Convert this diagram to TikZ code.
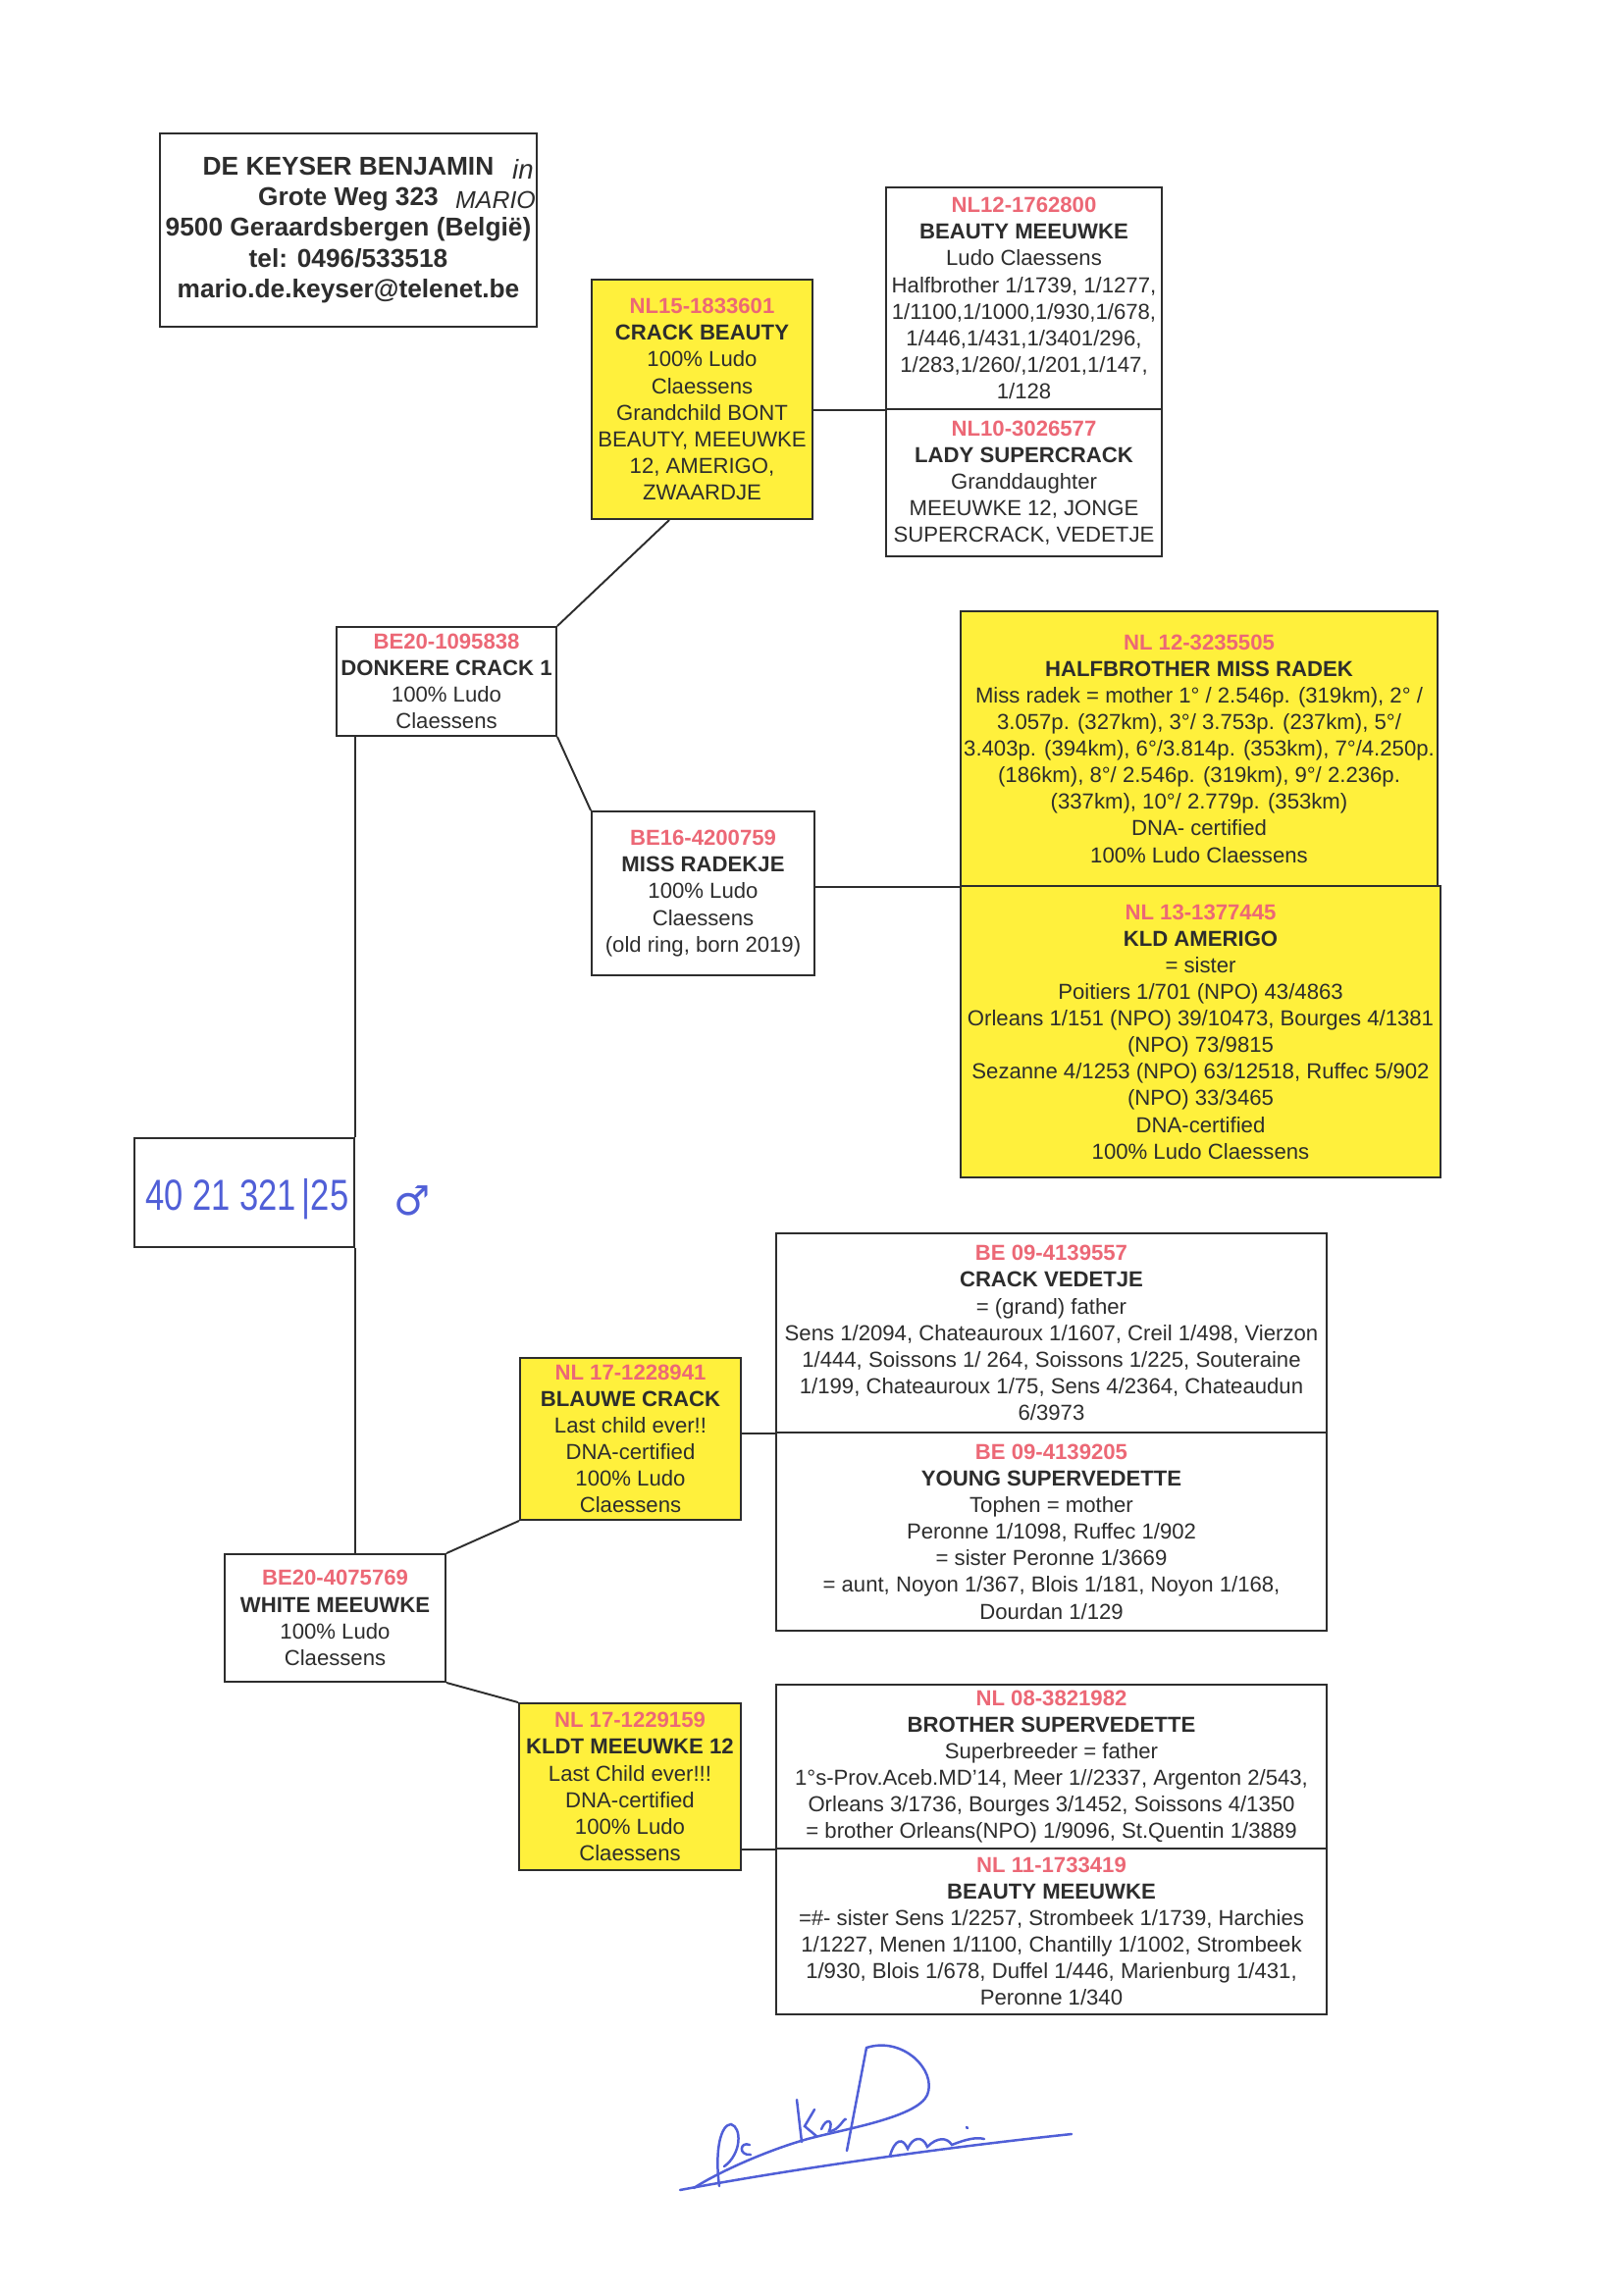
\documentclass[tikz,border=0pt]{standalone}
\usepackage{fontspec}
\setmainfont{Liberation Sans}
\newfontfamily\symfont{DejaVu Sans}

\definecolor{ringred}{RGB}{236,104,118}
\definecolor{cardyellow}{RGB}{255,240,60}
\definecolor{ink}{RGB}{45,45,45}
\definecolor{penblue}{RGB}{80,95,215}
\newdimen\pxu \pxu=0.127mm
\newcommand{\ringno}[1]{\textcolor{ringred}{\textbf{#1}}}

\begin{document}
\begin{tikzpicture}[x=0.127mm,y=-0.127mm,
card/.style={draw=ink,line width=0.7pt,inner sep=0pt,align=center,text=ink,font=\fontsize{8}{9.8}\selectfont},
yellowcard/.style={card,fill=cardyellow},
link/.style={draw=ink,line width=0.7pt},
penline/.style={draw=penblue,line width=0.9pt,line cap=round}]
\useasboundingbox[fill=white] (0,0) rectangle (1654,2337);

% owner
\node[card,font=\fontsize{9.5}{11.3}\selectfont\bfseries,minimum width=384*\pxu,minimum height=197*\pxu] (owner) at (355,234.5)
{DE KEYSER BENJAMIN\\Grote Weg 323\\9500 Geraardsbergen (België)\\tel: 0496/533518\\mario.de.keyser@telenet.be};
\node[text=ink,font=\fontsize{10}{10}\selectfont\itshape] (ownerin) at (533,172) {in};
\node[text=ink,font=\fontsize{9}{9}\selectfont\itshape] (ownermario) at (505,204) {MARIO};

% top branch
\node[yellowcard,minimum width=225*\pxu,minimum height=244*\pxu] (crackbeauty) at (715.5,407)
{\ringno{NL15-1833601}\\\textbf{CRACK BEAUTY}\\100\% Ludo\\Claessens\\Grandchild BONT\\BEAUTY, MEEUWKE\\12, AMERIGO,\\ZWAARDJE};
\node[card,minimum width=281*\pxu,minimum height=226*\pxu] (beautytop) at (1043.5,304)
{\ringno{NL12-1762800}\\\textbf{BEAUTY MEEUWKE}\\Ludo Claessens\\Halfbrother 1/1739, 1/1277,\\1/1100,1/1000,1/930,1/678,\\1/446,1/431,1/3401/296,\\1/283,1/260/,1/201,1/147,\\1/128};
\node[card,minimum width=281*\pxu,minimum height=150*\pxu] (lady) at (1043.5,492)
{\ringno{NL10-3026577}\\\textbf{LADY SUPERCRACK}\\Granddaughter\\MEEUWKE 12, JONGE\\SUPERCRACK, VEDETJE};

\node[card,minimum width=224*\pxu,minimum height=111*\pxu] (donkere) at (455,694.5)
{\ringno{BE20-1095838}\\\textbf{DONKERE CRACK 1}\\100\% Ludo\\Claessens};
\node[card,minimum width=227*\pxu,minimum height=167*\pxu] (radekje) at (716.5,910.5)
{\ringno{BE16-4200759}\\\textbf{MISS RADEKJE}\\100\% Ludo\\Claessens\\(old ring, born 2019)};
\node[yellowcard,minimum width=486*\pxu,minimum height=280*\pxu] (halfbrother) at (1222,763)
{\ringno{NL 12-3235505}\\\textbf{HALFBROTHER MISS RADEK}\\Miss radek = mother 1° / 2.546p. (319km), 2° /\\3.057p. (327km), 3°/ 3.753p. (237km), 5°/\\3.403p. (394km), 6°/3.814p. (353km), 7°/4.250p.\\(186km), 8°/ 2.546p. (319km), 9°/ 2.236p.\\(337km), 10°/ 2.779p. (353km)\\DNA- certified\\100\% Ludo Claessens};
\node[yellowcard,minimum width=489*\pxu,minimum height=297*\pxu] (amerigo) at (1223.5,1051.5)
{\ringno{NL 13-1377445}\\\textbf{KLD AMERIGO}\\= sister\\Poitiers 1/701 (NPO) 43/4863\\Orleans 1/151 (NPO) 39/10473, Bourges 4/1381\\(NPO) 73/9815\\Sezanne 4/1253 (NPO) 63/12518, Ruffec 5/902\\(NPO) 33/3465\\DNA-certified\\100\% Ludo Claessens};

% ring of the bird
\node[card,minimum width=224*\pxu,minimum height=111*\pxu] (ring) at (249,1215.5) {};
\node[text=penblue,font=\fontsize{16}{16}\selectfont] (ringno) at (252,1222) {\scalebox{0.78}[1]{40 21 321\,|25}};
\node[text=penblue,font=\fontsize{15}{15}\selectfont\symfont] (male) at (420,1224) {♂};

% bottom branch
\node[card,minimum width=225*\pxu,minimum height=130*\pxu] (white) at (341.5,1649)
{\ringno{BE20-4075769}\\\textbf{WHITE MEEUWKE}\\100\% Ludo\\Claessens};
\node[yellowcard,minimum width=225*\pxu,minimum height=165*\pxu] (blauwe) at (642.5,1466.5)
{\ringno{NL 17-1228941}\\\textbf{BLAUWE CRACK}\\Last child ever!!\\DNA-certified\\100\% Ludo\\Claessens};
\node[card,minimum width=561*\pxu,minimum height=203*\pxu] (vedetje) at (1071.5,1358.5)
{\ringno{BE 09-4139557}\\\textbf{CRACK VEDETJE}\\= (grand) father\\Sens 1/2094, Chateauroux 1/1607, Creil 1/498, Vierzon\\1/444, Soissons 1/ 264, Soissons 1/225, Souteraine\\1/199, Chateauroux 1/75, Sens 4/2364, Chateaudun\\6/3973};
\node[card,minimum width=561*\pxu,minimum height=202*\pxu] (youngsv) at (1071.5,1561)
{\ringno{BE 09-4139205}\\\textbf{YOUNG SUPERVEDETTE}\\Tophen = mother\\Peronne 1/1098, Ruffec 1/902\\= sister Peronne 1/3669\\= aunt, Noyon 1/367, Blois 1/181, Noyon 1/168,\\Dourdan 1/129};
\node[yellowcard,minimum width=226*\pxu,minimum height=170*\pxu] (kldt) at (642,1821)
{\ringno{NL 17-1229159}\\\textbf{KLDT MEEUWKE 12}\\Last Child ever!!!\\DNA-certified\\100\% Ludo\\Claessens};
\node[card,minimum width=561*\pxu,minimum height=167*\pxu] (brothersv) at (1071.5,1800.5)
{\ringno{NL 08-3821982}\\\textbf{BROTHER SUPERVEDETTE}\\Superbreeder = father\\1°s-Prov.Aceb.MD'14, Meer 1//2337, Argenton 2/543,\\Orleans 3/1736, Bourges 3/1452, Soissons 4/1350\\= brother Orleans(NPO) 1/9096, St.Quentin 1/3889};
\node[card,minimum width=561*\pxu,minimum height=169*\pxu] (beautybottom) at (1071.5,1968.5)
{\ringno{NL 11-1733419}\\\textbf{BEAUTY MEEUWKE}\\=\#- sister Sens 1/2257, Strombeek 1/1739, Harchies\\1/1227, Menen 1/1100, Chantilly 1/1002, Strombeek\\1/930, Blois 1/678, Duffel 1/446, Marienburg 1/431,\\Peronne 1/340};

% connectors
\draw[link] ([xshift=-4.25mm]crackbeauty.south) -- (donkere.north east);
\foreach \a/\b in {donkere.south east/radekje.north west,white.north east/blauwe.south west,white.south east/kldt.north west}
\draw[link] (\a) -- (\b);
\foreach \a/\b in {crackbeauty/beautytop,radekje/halfbrother,blauwe/vedetje,kldt/brothersv}
\draw[link] (\b.south west -| \a.east) -- (\b.south west);
\draw[link] (donkere.south -| ring.east) -- (ring.north east);
\draw[link] (ring.south east) -- (white.north -| ring.east);

% signature
\draw[penline] (693,2232) .. controls (800,2212) and (950,2190) .. (1092,2175);
\draw[penline] (863,2192) -- (883,2087) .. controls (920,2075) and (955,2110) .. (945,2135) .. controls (935,2158) and (860,2170) .. (823,2180) .. controls (780,2192) and (730,2215) .. (707,2230);
\draw[penline] (733,2228) .. controls (728,2190) and (735,2165) .. (745,2165) .. controls (756,2168) and (756,2195) .. (738,2208);
\draw[penline] (764,2186) .. controls (754,2182) and (752,2197) .. (765,2196);
\draw[penline] (812,2140) -- (817,2183);
\draw[penline] (830,2150) -- (820,2167) -- (832,2177);
\draw[penline] (837,2170) .. controls (842,2158) and (850,2160) .. (845,2172) .. controls (855,2172) and (860,2158) .. (862,2160);
\draw[penline] (907,2197) .. controls (912,2180) and (920,2178) .. (925,2190) .. controls (930,2178) and (940,2176) .. (945,2188) .. controls (955,2178) and (965,2178) .. (970,2186) .. controls (985,2180) and (995,2178) .. (1003,2180);
\draw[penline] (985,2168) -- (986,2169);
\end{tikzpicture}
\end{document}
